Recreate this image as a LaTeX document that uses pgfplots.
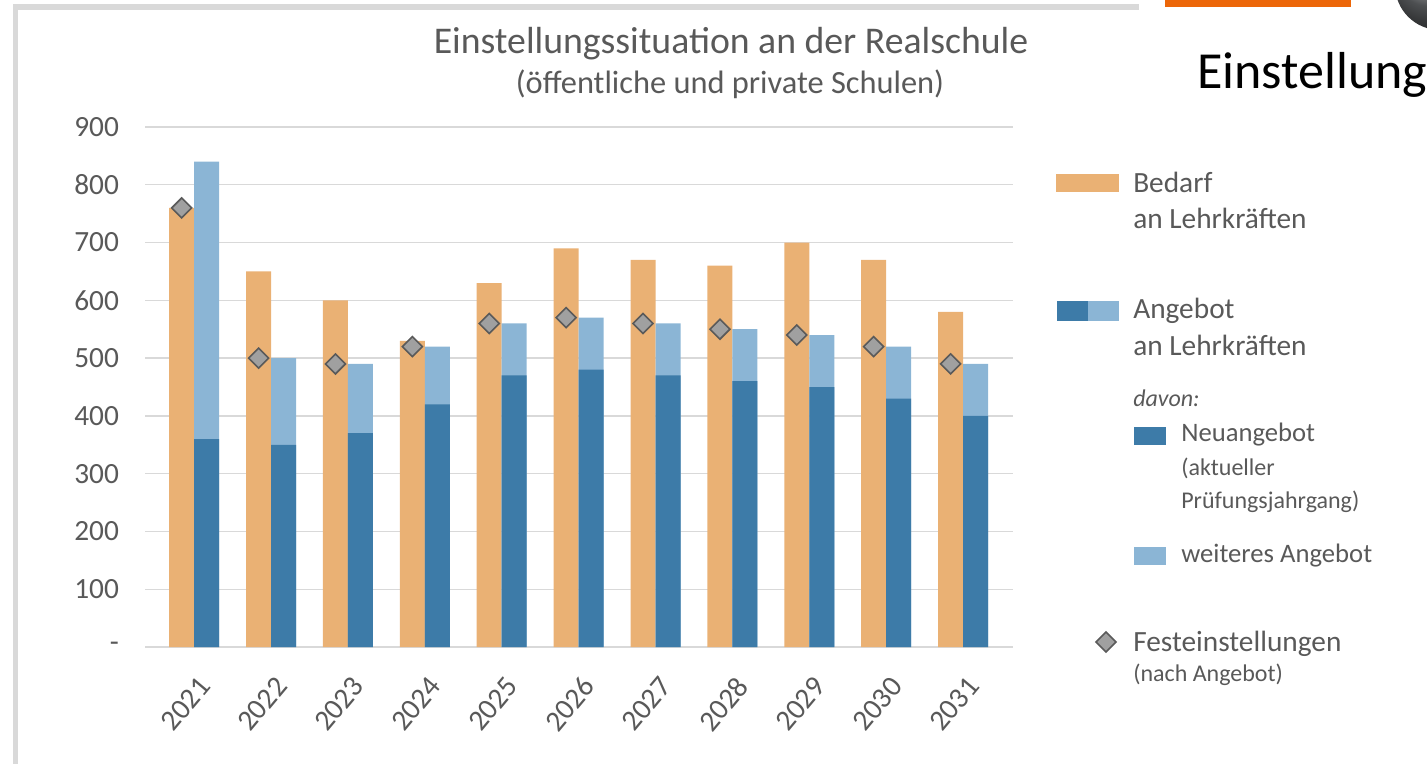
\documentclass[border=0pt]{standalone}
\usepackage{pgfplots}
\pgfplotsset{compat=1.18}
\usepackage{pgfplotstable}
\usepackage{fontspec}
\setmainfont{Carlito}
\definecolor{orng}{HTML}{EAB174}
\definecolor{dblue}{HTML}{3D7BA8}
\definecolor{lblue}{HTML}{8BB5D5}
\definecolor{txt}{HTML}{595959}
\definecolor{gridc}{HTML}{D9D9D9}
\definecolor{mkfill}{HTML}{A0A0A0}
\definecolor{mkdraw}{HTML}{5A5A5A}
\definecolor{topor}{HTML}{EC6608}
\definecolor{ballc}{HTML}{6E7174}
\newcommand\fs[1]{\fontsize{#1}{#1}\selectfont}

\pgfplotstableread{
x bedarf neu total fest
0 760 360 840 760
1 650 350 500 500
2 600 370 490 490
3 530 420 520 520
4 630 470 560 560
5 690 480 570 570
6 670 470 560 560
7 660 460 550 550
8 700 450 540 540
9 670 430 520 520
10 580 400 490 490
}\data

\begin{document}
\begin{tikzpicture}
\begin{scope}[x=0.75pt,y=-0.75pt]
\path[use as bounding box] (0,0) rectangle (1427,764);
\begin{scope}
\clip (0,0) rectangle (1427,764);
% frame
\fill[gridc] (13,4) rectangle (1139,10);
\fill[gridc] (13,4) rectangle (18,764);
\fill[topor] (1165,0) rectangle (1351,7);
\shade[ball color=ballc] (1440,-15) circle (45);
\end{scope}
% header text
\node[anchor=base west, inner sep=0, font=\fs{39}] at (1197,88) {Einstellung};
% title
\node[anchor=base, inner sep=0, text=txt, font=\fs{28.3}] at (731,53) {Einstellungssituation an der Realschule};
\node[anchor=base, inner sep=0, text=txt, font=\fs{24.3}] at (730,93) {(öffentliche und private Schulen)};
% legend
\fill[orng] (1056,174) rectangle (1119,192);
\node[anchor=base west, inner sep=0, text=txt, font=\fs{22}] at (1133,192) {Bedarf};
\node[anchor=base west, inner sep=0, text=txt, font=\fs{22}] at (1133,228) {an Lehrkräften};
\fill[dblue] (1057,301) rectangle (1088,321);
\fill[lblue] (1088,301) rectangle (1119,321);
\node[anchor=base west, inner sep=0, text=txt, font=\fs{22}] at (1133,318) {Angebot};
\node[anchor=base west, inner sep=0, text=txt, font=\fs{22}] at (1133,355) {an Lehrkräften};
\node[anchor=base west, inner sep=0, text=txt, font=\fs{18}\itshape] at (1133,406) {davon:};
\fill[dblue] (1134,427) rectangle (1166,445);
\node[anchor=base west, inner sep=0, text=txt, font=\fs{20}] at (1181,441) {Neuangebot};
\node[anchor=base west, inner sep=0, text=txt, font=\fs{18}] at (1181,475) {(aktueller};
\node[anchor=base west, inner sep=0, text=txt, font=\fs{18}] at (1181,508) {Prüfungsjahrgang)};
\fill[lblue] (1134,547) rectangle (1166,565);
\node[anchor=base west, inner sep=0, text=txt, font=\fs{20}] at (1181,562) {weiteres Angebot};
\draw[mkdraw, fill=mkfill, line width=1.2pt] (1106,632) -- (1116,642) -- (1106,652) -- (1096,642) -- cycle;
\node[anchor=base west, inner sep=0, text=txt, font=\fs{22}] at (1133,651) {Festeinstellungen};
\node[anchor=base west, inner sep=0, text=txt, font=\fs{18}] at (1133,681) {(nach Angebot)};
\end{scope}

\begin{axis}[
  at={(108.75pt,-485.25pt)}, anchor=south west,
  width=651pt, height=390pt, scale only axis,
  xmin=-0.64, xmax=10.65, ymin=0, ymax=900,
  axis line style={draw=none},
  major tick length=0pt,
  ymajorgrids, grid style={draw=gridc, line width=1pt},
  ytick={0,100,...,900},
  yticklabels={-,100,200,300,400,500,600,700,800,900},
  xtick={0,...,10},
  xticklabels={2021,2022,2023,2024,2025,2026,2027,2028,2029,2030,2031},
  tick label style={text=txt},
  yticklabel style={font=\fs{22}, anchor=east, xshift=-16pt},
  xticklabel style={font=\fs{22}, xshift=10pt, yshift=-23pt, rotate=50, anchor=east},
  clip=false,
]
\addplot[ybar, bar width=18.75pt, bar shift=-9.375pt, fill=orng, draw=none] table[x=x, y=bedarf] {\data};
\addplot[ybar, bar width=18.75pt, bar shift=9.375pt, fill=lblue, draw=none] table[x=x, y=total] {\data};
\addplot[ybar, bar width=18.75pt, bar shift=9.375pt, fill=dblue, draw=none] table[x=x, y=neu] {\data};
\addplot[only marks, mark=square*, mark size=5.3pt, mark options={rotate=45, fill=mkfill, draw=mkdraw, line width=1.2pt}] table[x expr=\thisrow{x}-0.1625, y=fest] {\data};
\end{axis}
\end{tikzpicture}
\end{document}
